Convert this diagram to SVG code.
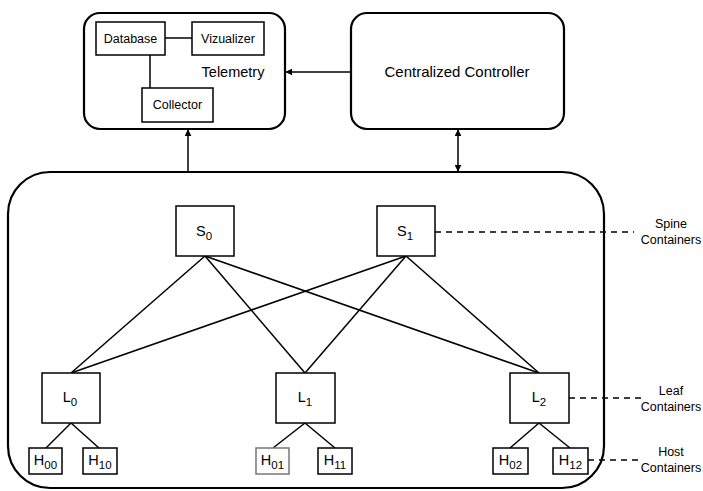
<svg xmlns="http://www.w3.org/2000/svg" width="703" height="491" viewBox="0 0 703 491">
<style>
text{font-family:"Liberation Sans",Arial,sans-serif;fill:#000;text-anchor:middle}
.big{fill:#fff;stroke:#000;stroke-width:2.2}
.box{fill:#fff;stroke:#000;stroke-width:1.5}
.ln{stroke:#000;stroke-width:1.5;fill:none}
.dash{stroke:#000;stroke-width:1.5;fill:none;stroke-dasharray:6 5}
.t15{font-size:15px}
.t14{font-size:14.5px}
.t12{font-size:12.5px}
.t11{font-size:12.5px}
</style>
<defs>
<marker id="ah" viewBox="0 0 10 10" refX="9" refY="5" markerWidth="7" markerHeight="7" orient="auto-start-reverse" markerUnits="userSpaceOnUse">
<path d="M0,0 L10,5 L0,10 z" fill="#000"/>
</marker>
</defs>
<g id="fabric"><rect class="big" x="8" y="172" width="596" height="316" rx="42"/></g>
<g id="telemetry">
<rect class="big" x="84" y="13" width="201" height="116" rx="16"/>
<text class="t14" x="233" y="77">Telemetry</text>
</g>
<g id="controller">
<rect class="big" x="351" y="13" width="213" height="116" rx="16"/>
<text class="t15" x="457" y="77">Centralized Controller</text>
</g>
<g id="connectors">
<line class="ln" x1="165" y1="38" x2="192" y2="38"/>
<line class="ln" x1="150" y1="55" x2="150" y2="88"/>
<line class="ln" x1="351" y1="72" x2="286" y2="72" marker-end="url(#ah)"/>
<line class="ln" x1="188" y1="172" x2="188" y2="130" marker-end="url(#ah)"/>
<line class="ln" x1="458" y1="171" x2="458" y2="130" marker-start="url(#ah)" marker-end="url(#ah)"/>
<line class="ln" x1="205" y1="256" x2="71" y2="373"/>
<line class="ln" x1="205" y1="256" x2="305" y2="373"/>
<line class="ln" x1="205" y1="256" x2="539" y2="373"/>
<line class="ln" x1="406" y1="256" x2="71" y2="373"/>
<line class="ln" x1="406" y1="256" x2="305" y2="373"/>
<line class="ln" x1="406" y1="256" x2="539" y2="373"/>
<line class="ln" x1="71" y1="423" x2="46" y2="448"/>
<line class="ln" x1="71" y1="423" x2="99" y2="448"/>
<line class="ln" x1="305" y1="423" x2="273" y2="448"/>
<line class="ln" x1="305" y1="423" x2="335" y2="448"/>
<line class="ln" x1="539" y1="423" x2="510" y2="448"/>
<line class="ln" x1="539" y1="423" x2="570" y2="448"/>
<line class="dash" x1="435" y1="232" x2="634" y2="232"/>
<line class="dash" x1="569" y1="398" x2="645" y2="398"/>
<line class="dash" x1="588" y1="460" x2="642" y2="460"/>
</g>
<g id="database"><rect class="box" x="96" y="22" width="69" height="33"/><text class="t12" x="130.5" y="43">Database</text></g>
<g id="vizualizer"><rect class="box" x="192" y="22" width="72" height="33"/><text class="t12" x="228" y="43">Vizualizer</text></g>
<g id="collector"><rect class="box" x="142" y="88" width="71" height="34"/><text class="t12" x="177.5" y="109">Collector</text></g>
<g id="s0"><rect class="box" x="176" y="206" width="58" height="50"/><text class="t14" x="204" y="236">S<tspan font-size="11.5" dy="4">0</tspan></text></g>
<g id="s1"><rect class="box" x="377" y="206" width="58" height="50"/><text class="t14" x="405" y="236">S<tspan font-size="11.5" dy="4">1</tspan></text></g>
<g id="l0"><rect class="box" x="42" y="373" width="58" height="50"/><text class="t14" x="70" y="402">L<tspan font-size="11.5" dy="4">0</tspan></text></g>
<g id="l1"><rect class="box" x="276" y="373" width="59" height="50"/><text class="t14" x="305" y="402">L<tspan font-size="11.5" dy="4">1</tspan></text></g>
<g id="l2"><rect class="box" x="510" y="373" width="59" height="50"/><text class="t14" x="539" y="402">L<tspan font-size="11.5" dy="4">2</tspan></text></g>
<g id="h00"><rect class="box" x="29" y="448" width="33" height="26"/><text class="t14" x="45.5" y="465">H<tspan font-size="11.5" dy="3.5">00</tspan></text></g>
<g id="h10"><rect class="box" x="83" y="448" width="34" height="26"/><text class="t14" x="100" y="465">H<tspan font-size="11.5" dy="3.5">10</tspan></text></g>
<g id="h01"><rect class="box" x="256" y="448" width="33" height="26" style="stroke:#777"/><text class="t14" x="272.5" y="465">H<tspan font-size="11.5" dy="3.5">01</tspan></text></g>
<g id="h11"><rect class="box" x="318" y="448" width="34" height="26"/><text class="t14" x="335" y="465">H<tspan font-size="11.5" dy="3.5">11</tspan></text></g>
<g id="h02"><rect class="box" x="493" y="448" width="35" height="26"/><text class="t14" x="510.5" y="465">H<tspan font-size="11.5" dy="3.5">02</tspan></text></g>
<g id="h12"><rect class="box" x="553" y="448" width="35" height="26"/><text class="t14" x="570.5" y="465">H<tspan font-size="11.5" dy="3.5">12</tspan></text></g>
<g id="labels">
<text class="t11" x="671" y="228">Spine</text><text class="t11" x="671" y="244">Containers</text>
<text class="t11" x="671" y="395">Leaf</text><text class="t11" x="671" y="411">Containers</text>
<text class="t11" x="671" y="456">Host</text><text class="t11" x="671" y="472">Containers</text>
</g>
</svg>
